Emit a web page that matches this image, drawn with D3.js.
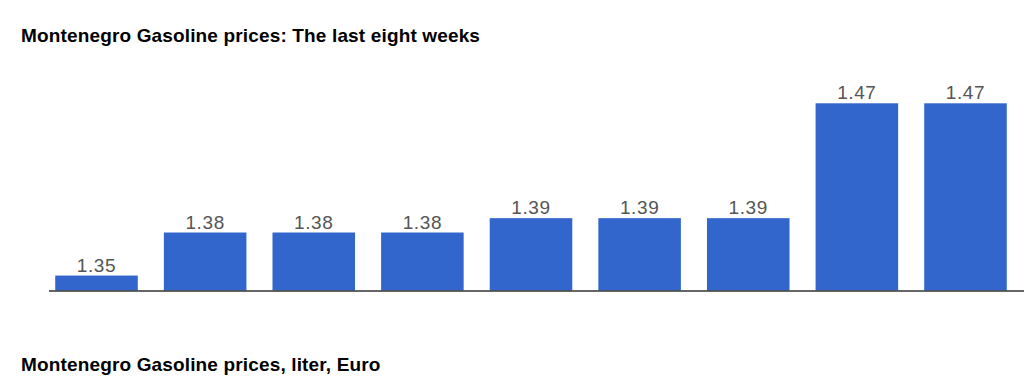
<!DOCTYPE html>
<html>
<head>
<meta charset="utf-8">
<script src="https://cdn.jsdelivr.net/npm/d3@7"></script>
<style>
	body { margin: 0; background: #fff; }
	svg { display: block; font-family: Arial, "Liberation Sans", sans-serif; }
</style>
</head>
<body>
<svg id="chart"></svg>
<script>
// weeks (oldest -> newest) and price per liter in Euro
let weeks = ['w1', 'w2', 'w3', 'w4', 'w5', 'w6', 'w7', 'w8', 'w9'];
let prices = [1.35, 1.38, 1.38, 1.38, 1.39, 1.39, 1.39, 1.47, 1.47];
let titleTop = 'Montenegro Gasoline prices: The last eight weeks';
let titleBottom = 'Montenegro Gasoline prices, liter, Euro';

let width = 1024;
let height = 387;
let baseY = 290.5;

let svg = d3.select('#chart')
	.attr('width', width)
	.attr('height', height);

let x = d3.scaleBand()
	.domain(weeks)
	.range([42.2, 1019.8])
	.paddingInner(0.24)
	.paddingOuter(0.12);

// bottom of the value axis is a bit under the lowest price
let y = d3.scaleLinear()
	.domain([1.3396, 1.47])
	.range([baseY, 103.3]);

let data = weeks.map((w, i) => ({week: w, price: prices[i]}));

svg.append('text')
	.attr('x', 21)
	.attr('y', 41.5)
	.attr('font-size', 19)
	.attr('font-weight', 'bold')
	.attr('letter-spacing', 0.15)
	.attr('fill', '#000')
	.text(titleTop);

svg.append('g')
	.attr('class', 'bars')
	.selectAll('rect')
	.data(data)
	.enter()
	.append('rect')
	.attr('x', d => x(d.week))
	.attr('y', d => y(d.price))
	.attr('width', x.bandwidth())
	.attr('height', d => baseY - y(d.price))
	.attr('fill', '#3366cc');

svg.append('g')
	.attr('class', 'labels')
	.selectAll('text')
	.data(data)
	.enter()
	.append('text')
	.attr('x', d => x(d.week) + x.bandwidth() / 2)
	.attr('y', d => y(d.price) - 4)
	.attr('text-anchor', 'middle')
	.attr('font-size', 19)
	.attr('letter-spacing', 0.6)
	.attr('fill', '#555')
	.text(d => d3.format('.2f')(d.price));

// baseline
svg.append('line')
	.attr('x1', 49)
	.attr('x2', width)
	.attr('y1', baseY + 0.5)
	.attr('y2', baseY + 0.5)
	.attr('stroke', '#333')
	.attr('stroke-width', 1.5);

svg.append('text')
	.attr('x', 21)
	.attr('y', 371)
	.attr('font-size', 19)
	.attr('font-weight', 'bold')
	.attr('letter-spacing', 0.15)
	.attr('fill', '#000')
	.text(titleBottom);
</script>
</body>
</html>
